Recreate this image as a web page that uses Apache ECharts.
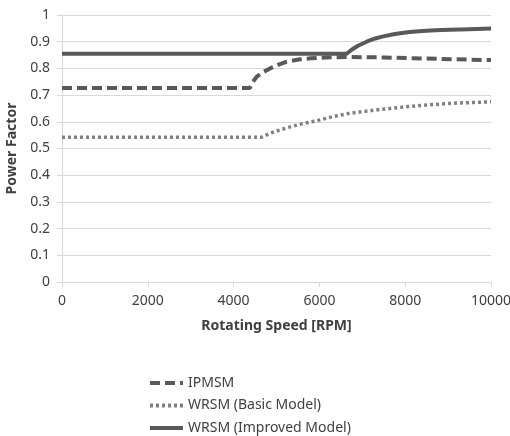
<!DOCTYPE html>
<html>
<head>
<meta charset="utf-8">
<script src="https://cdn.jsdelivr.net/npm/echarts@6/dist/echarts.min.js"></script>
<style>
  html, body { margin: 0; padding: 0; background: #fff; }
  #chart { width: 510px; height: 436px; }
</style>
</head>
<body>
<div id="chart"></div>
<script>
// speed [rpm] / power factor
var ipmsmRpm = [0, 4380, 4450, 4540, 4700, 4850, 5050, 5240, 5550, 5800, 6000, 6600, 7500, 8500, 10000];
var ipmsmPf = [0.727, 0.727, 0.750, 0.769, 0.787, 0.800, 0.814, 0.825, 0.834, 0.838, 0.840, 0.843, 0.841, 0.837, 0.831];

var basicRpm = [0, 4650, 4850, 5050, 5300, 5600, 5940, 6300, 6710, 7300, 7880, 8450, 9040, 10000];
var basicPf = [0.542, 0.542, 0.557, 0.568, 0.580, 0.593, 0.604, 0.619, 0.632, 0.644, 0.654, 0.662, 0.669, 0.675];

var improvedRpm = [0, 6636, 6750, 6900, 7100, 7300, 7490, 7700, 7880, 8100, 8400, 8700, 9040, 9500, 10000];
var improvedPf = [0.855, 0.855, 0.870, 0.885, 0.900, 0.912, 0.920, 0.927, 0.932, 0.936, 0.940, 0.943, 0.945, 0.947, 0.949];

var seriesNames = ['IPMSM', 'WRSM (Basic Model)', 'WRSM (Improved Model)'];

function pairs(xs, ys) {
  return xs.map(function (x, i) { return [x, ys[i]]; });
}

var textColor = '#404040';
var gridColor = '#d9d9d9';
var fontFamily = '"Noto Sans", "Open Sans", sans-serif';

var chart = echarts.init(document.getElementById('chart'));
chart.setOption({
  animation: false,
  textStyle: { fontFamily: fontFamily },
  grid: { left: 62, right: 19, top: 15, bottom: 154, outerBoundsMode: 'none', containLabel: false },
  legend: {
    orient: 'vertical',
    left: 148,
    top: 376,
    height: 80,
    padding: 0,
    itemWidth: 33,
    itemHeight: 14,
    itemGap: 8.5,
    itemStyle: { opacity: 0 },
    lineStyle: { width: 4 },
    textStyle: { color: textColor, fontSize: 14 },
    data: seriesNames
  },
  xAxis: {
    type: 'value',
    min: 0,
    max: 10000,
    interval: 2000,
    name: 'Rotating Speed [RPM]',
    nameLocation: 'middle',
    nameGap: 37,
    nameTextStyle: { color: textColor, fontSize: 14, fontWeight: 'bold' },
    axisLine: { show: true, lineStyle: { color: gridColor } },
    axisTick: { show: true, length: 5, lineStyle: { color: gridColor } },
    axisLabel: { color: textColor, fontSize: 14, margin: 12, formatter: function (v) { return String(v); } },
    splitLine: { show: false }
  },
  yAxis: {
    type: 'value',
    min: 0,
    max: 1,
    interval: 0.1,
    name: 'Power Factor',
    nameLocation: 'middle',
    nameGap: 36,
    nameTextStyle: { color: textColor, fontSize: 14, fontWeight: 'bold' },
    axisLine: { show: true, lineStyle: { color: gridColor } },
    axisTick: { show: true, length: 5, lineStyle: { color: gridColor } },
    axisLabel: { color: textColor, fontSize: 14, margin: 12, formatter: function (v) { return String(+v.toFixed(1)); } },
    splitLine: { show: true, lineStyle: { color: gridColor } }
  },
  series: [
    {
      name: seriesNames[0],
      type: 'line',
      data: pairs(ipmsmRpm, ipmsmPf),
      showSymbol: false,
      symbol: 'none',
      lineStyle: { color: '#595959', width: 4, type: [10, 5] },
      itemStyle: { color: '#595959' }
    },
    {
      name: seriesNames[1],
      type: 'line',
      data: pairs(basicRpm, basicPf),
      showSymbol: false,
      symbol: 'none',
      lineStyle: { color: '#808080', width: 3.5, type: [3, 3] },
      itemStyle: { color: '#808080' }
    },
    {
      name: seriesNames[2],
      type: 'line',
      data: pairs(improvedRpm, improvedPf),
      showSymbol: false,
      symbol: 'none',
      lineStyle: { color: '#595959', width: 4, type: 'solid' },
      itemStyle: { color: '#595959' }
    }
  ]
});
</script>
</body>
</html>
